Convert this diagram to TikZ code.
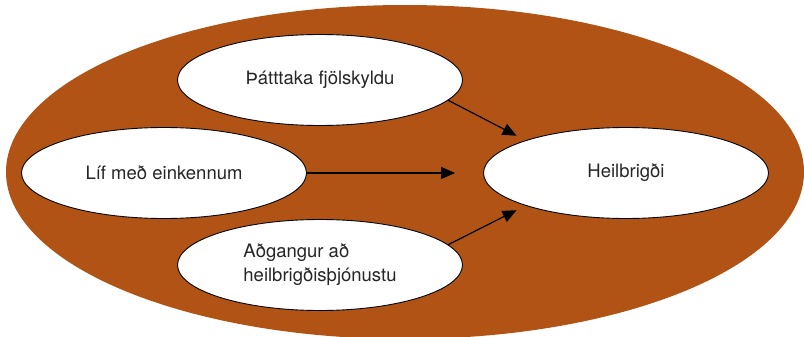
\documentclass[tikz,border=0pt]{standalone}
\usepackage{fontspec}
\setmainfont{TeX Gyre Heros}
\usetikzlibrary{shapes.geometric,arrows.meta}
\definecolor{rust}{RGB}{178,83,22}
\begin{document}
\begin{tikzpicture}[x=1pt,y=-1pt,
    factor/.style={draw=black,fill=white,ellipse,line width=0.9pt,
      minimum width=285pt,minimum height=91pt,inner sep=0pt,
      text=black!85,font=\fontsize{18.5}{24}\selectfont},
    link/.style={line width=1.2pt,-{Triangle[length=14pt,width=12pt]}}]
    \useasboundingbox (0,0) rectangle (804,337);
    \clip (0,0) rectangle (804,337);
    % outer field
    \fill[rust] (405,172) ellipse (399 and 167);
    \node[factor] (fam)  at (320,80)  {Þátttaka fjölskyldu};
    \node[factor] (life) at (164,173) {Líf með einkennum};
    \node[factor,align=left] (care) at (320,265) {Aðgangur að\\heilbrigðisþjónustu};
    \node[factor] (health) at (626,173) {Heilbrigði};
    \draw[link,shorten >=10pt] (fam.-9) -- (health.162);
    \draw[link,shorten >=28pt] (life.east) -- (health.west);
    \draw[link,shorten >=10pt] (care.9) -- (health.-162);
\end{tikzpicture}
\end{document}
